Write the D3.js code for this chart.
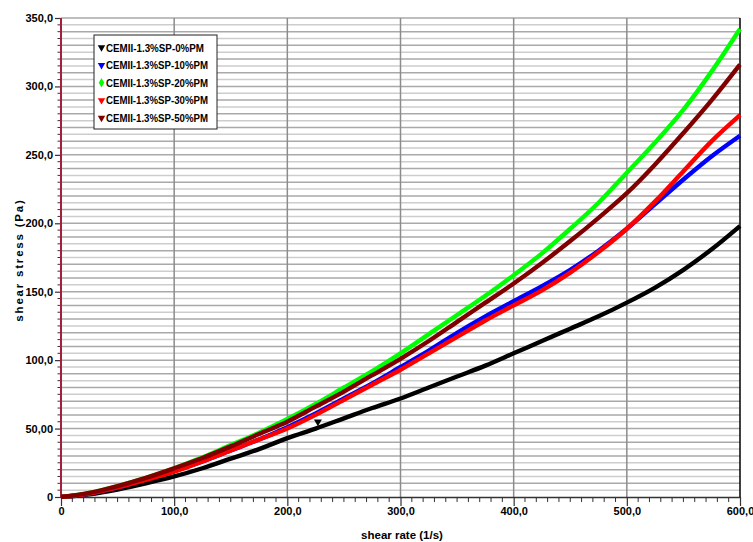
<!DOCTYPE html>
<html>
<head>
<meta charset="utf-8">
<script src="https://cdn.jsdelivr.net/npm/d3@7"></script>
<style>
  html, body { margin: 0; padding: 0; background: #fff; }
  svg { display: block; }
  text { font-family: "Liberation Sans", Arial, sans-serif; font-weight: bold; }
</style>
</head>
<body>
<svg id="chart" width="753" height="542"></svg>
<script>
// ---- data ----
const shearRate = [0, 25, 50, 75, 100, 125, 150, 175, 200, 225, 250, 275, 300,
                   325, 350, 375, 400, 425, 450, 475, 500, 525, 550, 575, 600];
const pm0  = [0, 2, 5.5, 10, 15, 21, 28, 35, 43, 50, 57.5, 65, 72, 80, 88, 96, 105, 114, 123, 132, 142, 153, 166, 181, 198];
const pm10 = [0, 2.5, 7, 13, 19, 26, 34, 42, 51, 61, 72, 83, 95, 107, 120, 132, 143, 154, 166, 180, 196, 214, 232, 249, 264];
const pm20 = [0, 3, 8, 14, 21, 29, 38, 47, 57, 68, 80, 92, 105, 119, 133, 147, 162, 178, 196, 215, 237, 259, 283, 311, 342];
const pm30 = [0, 2.5, 7, 12.5, 18.5, 26, 34, 42, 50, 60, 71, 82, 93, 105, 117, 129, 140, 151, 164, 179, 196, 216, 238, 260, 279];
const pm50 = [0, 3, 8, 14, 21, 28.5, 37, 46, 55, 66, 77, 89, 101, 114, 128, 142, 156, 171, 187, 204, 222, 243, 266, 290, 316];
const outlierPoint = [227, 55]; // isolated black marker
const seriesNames = ["CEMII-1.3%SP-0%PM", "CEMII-1.3%SP-10%PM", "CEMII-1.3%SP-20%PM",
                     "CEMII-1.3%SP-30%PM", "CEMII-1.3%SP-50%PM"];
const seriesColors = ["#000000", "#0000ff", "#00ff00", "#ff0000", "#800000"];
const seriesValues = [pm0, pm10, pm20, pm30, pm50];
const xTickValues = [0, 100, 200, 300, 400, 500, 600];
const xTickLabels = ["0", "100,0", "200,0", "300,0", "400,0", "500,0", "600,0"];
const yTickValues = [0, 50, 100, 150, 200, 250, 300, 350];
const yTickLabels = ["0", "50,00", "100,0", "150,0", "200,0", "250,0", "300,0", "350,0"];

// ---- layout ----
const svg = d3.select("#chart");
const L = 61, R = 740, T = 18, B = 497;
const x = d3.scaleLinear().domain([0, 600]).range([L, R]);
const y = d3.scaleLinear().domain([0, 350]).range([B, T]);

// horizontal grid every 5
const hg = svg.append("g");
d3.range(5, 351, 5).forEach(v => {
  hg.append("line")
    .attr("x1", L).attr("x2", R).attr("y1", y(v)).attr("y2", y(v))
    .attr("stroke", v % 10 === 0 ? "#a9a9a9" : "#cdcdcd")
    .attr("stroke-width", 1.5);
});
// vertical grid
xTickValues.filter(v => v > 0 && v < 600).forEach(v => {
  svg.append("line")
    .attr("x1", x(v)).attr("x2", x(v)).attr("y1", T).attr("y2", B)
    .attr("stroke", "#8c8c8c").attr("stroke-width", 1.5);
});

// x axis
const xAxis = d3.axisBottom(x).tickValues(xTickValues)
  .tickFormat((d, i) => xTickLabels[i]).tickSize(9).tickSizeOuter(0);
const gx = svg.append("g").attr("transform", `translate(0,${B})`).call(xAxis);
gx.select(".domain").attr("stroke", "#333").attr("stroke-width", 1.5);
gx.selectAll(".tick line").attr("stroke", "#333").attr("stroke-width", 1.2);
gx.selectAll(".tick text").attr("font-size", 11).attr("font-weight", "bold")
  .attr("font-family", "Liberation Sans, Arial, sans-serif").attr("fill", "#000").attr("dy", "0.5em");
// x minor ticks
const xm = svg.append("g");
d3.range(10, 600, 10).filter(v => v % 100 !== 0).forEach(v => {
  xm.append("line").attr("x1", x(v)).attr("x2", x(v)).attr("y1", B).attr("y2", B + 5)
    .attr("stroke", "#333").attr("stroke-width", 1);
});

// y axis
const yAxis = d3.axisLeft(y).tickValues(yTickValues)
  .tickFormat((d, i) => yTickLabels[i]).tickSize(6).tickSizeOuter(0);
const gy = svg.append("g").attr("transform", `translate(${L},0)`).call(yAxis);
gy.select(".domain").remove();
gy.selectAll(".tick line").attr("stroke", "#333").attr("stroke-width", 1.2);
gy.selectAll(".tick text").attr("font-size", 11).attr("font-weight", "bold")
  .attr("font-family", "Liberation Sans, Arial, sans-serif").attr("fill", "#000").attr("x", -8);
// y minor ticks every 5
d3.range(5, 350, 5).filter(v => v % 50 !== 0).forEach(v => {
  svg.append("line").attr("x1", L - 3.5).attr("x2", L).attr("y1", y(v)).attr("y2", y(v))
    .attr("stroke", "#333").attr("stroke-width", 1);
});
// red y axis line
svg.append("line").attr("x1", L).attr("x2", L).attr("y1", T).attr("y2", B)
  .attr("stroke", "#a3203c").attr("stroke-width", 2);
// right border
svg.append("line").attr("x1", R).attr("x2", R).attr("y1", T).attr("y2", B)
  .attr("stroke", "#000").attr("stroke-width", 1.5);

// series
const line = d3.line().x((d, i) => x(shearRate[i])).y(d => y(d)).curve(d3.curveMonotoneX);
svg.append("clipPath").attr("id", "clip").append("rect")
  .attr("x", L).attr("y", T - 4).attr("width", R - L + 2).attr("height", B - T + 6);
const gs = svg.append("g").attr("clip-path", "url(#clip)");
seriesValues.forEach((vals, k) => {
  gs.append("path").datum(vals)
    .attr("d", line).attr("fill", "none")
    .attr("stroke", seriesColors[k]).attr("stroke-width", 4.4)
    .attr("stroke-linejoin", "round");
});
// outlier marker
const tri = d3.symbol().type(d3.symbolTriangle).size(28);
svg.append("path").attr("d", tri())
  .attr("transform", `translate(${x(outlierPoint[0])},${y(outlierPoint[1])}) rotate(180)`)
  .attr("fill", "#000");

// legend
const lg = svg.append("g");
lg.append("rect").attr("x", 94).attr("y", 35).attr("width", 123).attr("height", 94)
  .attr("fill", "#fff").attr("stroke", "#222").attr("stroke-width", 1);
seriesNames.forEach((name, i) => {
  const cy = 47.5 + i * 17.6;
  const sym = i === 2 ? d3.symbol().type(d3.symbolDiamond).size(26)
                      : d3.symbol().type(d3.symbolTriangle).size(24);
  lg.append("path").attr("d", sym())
    .attr("transform", `translate(101.5,${cy})` + (i === 2 ? "" : " rotate(180)"))
    .attr("fill", seriesColors[i]);
  lg.append("text").attr("x", 106).attr("y", cy + 4).attr("font-size", 11)
    .attr("textLength", i === 0 ? 98 : 102).attr("lengthAdjust", "spacingAndGlyphs")
    .attr("fill", "#000").text(name);
});

// axis titles
svg.append("text").attr("x", 402).attr("y", 539).attr("text-anchor", "middle")
  .attr("font-size", 11.5).attr("fill", "#000").text("shear rate (1/s)");
svg.append("text").attr("transform", "translate(23,260) rotate(-90)")
  .attr("text-anchor", "middle").attr("font-size", 11.5).attr("letter-spacing", 1.8)
  .attr("fill", "#000").text("shear stress (Pa)");
</script>
</body>
</html>
